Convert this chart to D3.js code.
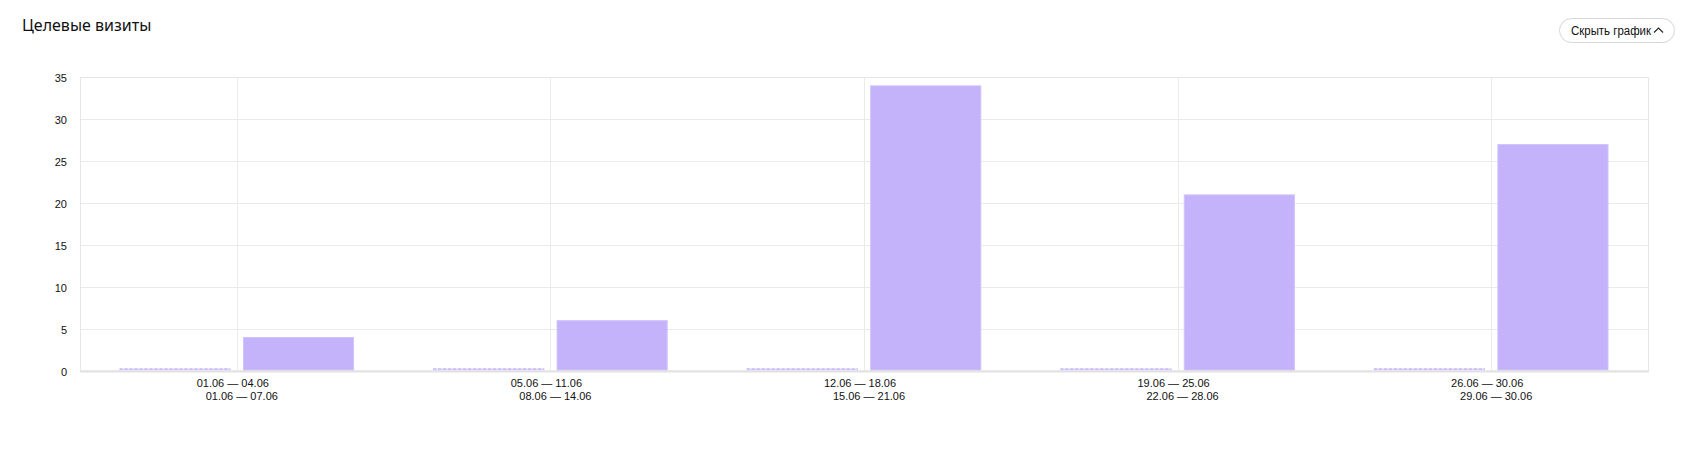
<!DOCTYPE html>
<html>
<head>
<meta charset="utf-8">
<script src="https://cdn.jsdelivr.net/npm/d3@7"></script>
<style>
  html, body { margin: 0; padding: 0; background: #fff; }
  svg { display: block; }
</style>
</head>
<body>
<svg id="chart" width="1692" height="450"></svg>
<script>
const title = "Целевые визиты";
const buttonLabel = "Скрыть график";
const periods = ["01.06 — 04.06", "05.06 — 11.06", "12.06 — 18.06", "19.06 — 25.06", "26.06 — 30.06"];
const comparePeriods = ["01.06 — 07.06", "08.06 — 14.06", "15.06 — 21.06", "22.06 — 28.06", "29.06 — 30.06"];
const currentValues = [4, 6, 34, 21, 27];
const compareValues = [0, 0, 0, 0, 0];
const yTicks = [0, 5, 10, 15, 20, 25, 30, 35];

const svg = d3.select("#chart");
const m = { left: 80, right: 1648, top: 77, bottom: 370.5 };

const x = d3.scaleBand().domain(d3.range(periods.length)).range([m.left, m.right]).padding(0);
const xs = d3.scaleBand().domain(["compare", "current"]).range([0, x.bandwidth()])
  .paddingInner(0.1).paddingOuter(0.32);
const y = d3.scaleLinear().domain([0, 35]).range([m.bottom, m.top]);

// Title
svg.append("text").attr("x", 22).attr("y", 31)
  .attr("font-family", "'Noto Sans', sans-serif").attr("font-size", 16).attr("fill", "#111")
  .text(title);

// Button
const btn = svg.append("g");
btn.append("rect").attr("x", 1559.5).attr("y", 18.5).attr("width", 115).attr("height", 24).attr("rx", 12)
  .attr("fill", "#fff").attr("stroke", "#d6d6d6");
btn.append("text").attr("x", 1571).attr("y", 34.5)
  .attr("font-family", "'Liberation Sans', Arial, sans-serif").attr("font-size", 12).attr("fill", "#111")
  .attr("textLength", 80).attr("lengthAdjust", "spacingAndGlyphs")
  .text(buttonLabel);
btn.append("path").attr("d", "M1654,32.5 L1658.5,28 L1663,32.5").attr("fill", "none").attr("stroke", "#222").attr("stroke-width", 1.1);

// Horizontal grid
svg.append("g").selectAll("line").data(yTicks).join("line")
  .attr("x1", m.left).attr("x2", m.right)
  .attr("y1", d => Math.round(y(d)) + 0.5).attr("y2", d => Math.round(y(d)) + 0.5)
  .attr("stroke", "#ebebeb");

// Vertical grid at group centers
svg.append("g").selectAll("line").data(d3.range(periods.length)).join("line")
  .attr("x1", d => Math.round(x(d) + x.bandwidth() / 2) + 0.5)
  .attr("x2", d => Math.round(x(d) + x.bandwidth() / 2) + 0.5)
  .attr("y1", m.top).attr("y2", m.bottom)
  .attr("stroke", "#ebebeb");

// Border
svg.append("rect").attr("x", m.left + 0.5).attr("y", m.top + 0.5)
  .attr("width", m.right - m.left).attr("height", m.bottom - m.top)
  .attr("fill", "none").attr("stroke", "#e6e6e6");

// Y labels
svg.append("g").selectAll("text").data(yTicks).join("text")
  .attr("x", 67).attr("y", d => y(d) + 5)
  .attr("text-anchor", "end")
  .attr("font-family", "'Liberation Sans', Arial, sans-serif").attr("font-size", 11).attr("fill", "#111")
  .text(d => d);

// Current bars
svg.append("g").selectAll("rect").data(currentValues).join("rect")
  .attr("x", (d, i) => x(i) + xs("current") + 0.5)
  .attr("y", d => y(d) + 0.5)
  .attr("width", xs.bandwidth() - 1)
  .attr("height", d => y(0) - y(d) - 1)
  .attr("fill", "#c4b2fa").attr("stroke", "#d0c2fb").attr("stroke-width", 1);

// Compare bars (zero values shown as stubs)
const cmp = svg.append("g");
cmp.selectAll("rect").data(compareValues).join("rect")
  .attr("x", (d, i) => x(i) + xs("compare"))
  .attr("y", d => Math.min(y(d), y(0) - 2))
  .attr("width", xs.bandwidth())
  .attr("height", d => Math.max(y(0) - y(d), 2))
  .attr("fill", "#e0d8fd");
cmp.selectAll("line").data(compareValues).join("line")
  .attr("x1", (d, i) => x(i) + xs("compare"))
  .attr("x2", (d, i) => x(i) + xs("compare") + xs.bandwidth())
  .attr("y1", d => Math.min(y(d), y(0) - 2) + 0.5)
  .attr("y2", d => Math.min(y(d), y(0) - 2) + 0.5)
  .attr("stroke", "#b8a4f8").attr("stroke-dasharray", "3,2");

// Bottom axis line
svg.append("line").attr("x1", m.left).attr("x2", m.right + 1)
  .attr("y1", m.bottom + 1).attr("y2", m.bottom + 1)
  .attr("stroke", "#e2e2e2").attr("stroke-width", 2);

// X labels
const xl = svg.append("g").attr("font-family", "'Liberation Sans', Arial, sans-serif")
  .attr("font-size", 11).attr("fill", "#111").attr("text-anchor", "middle");
xl.selectAll("text.p").data(periods).join("text").attr("class", "p")
  .attr("x", (d, i) => x(i) + x.bandwidth() / 2 - 4).attr("y", 387)
  .text(d => d);
xl.selectAll("text.c").data(comparePeriods).join("text").attr("class", "c")
  .attr("x", (d, i) => x(i) + x.bandwidth() / 2 + 5).attr("y", 400)
  .text(d => d);
</script>
</body>
</html>
